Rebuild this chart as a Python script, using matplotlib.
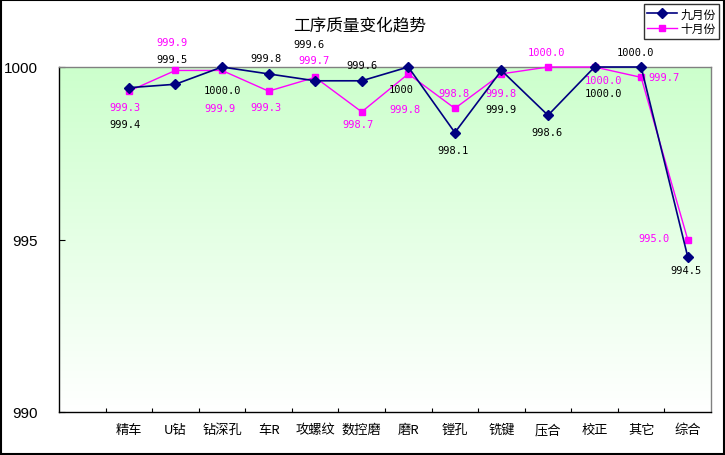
import numpy as np
import matplotlib
matplotlib.use("Agg")
import matplotlib.pyplot as plt
from matplotlib.colors import LinearSegmentedColormap

plt.rcParams["font.family"] = ["Noto Sans CJK SC", "DejaVu Sans"]

categories = ["精车", "U钻", "钻深孔", "车R", "攻螺纹", "数控磨", "磨R",
              "镗孔", "铣键", "压合", "校正", "其它", "综合"]
sep = [999.4, 999.5, 1000.0, 999.8, 999.6, 999.6, 1000.0,
       998.1, 999.9, 998.6, 1000.0, 1000.0, 994.5]
oct_ = [999.3, 999.9, 999.9, 999.3, 999.7, 998.7, 999.8,
        998.8, 999.8, 1000.0, 1000.0, 999.7, 995.0]
sep_text = ["999.4", "999.5", "1000.0", "999.8", "999.6", "999.6", "1000",
            "998.1", "999.9", "998.6", "1000.0", "1000.0", "994.5"]
oct_text = ["999.3", "999.9", "999.9", "999.3", "999.7", "998.7", "999.8",
            "998.8", "999.8", "1000.0", "1000.0", "999.7", "995.0"]

# label offsets in pixels (dx, dy), dy positive = up
sep_off = [(-4, -36), (-3, 25), (0, -23), (-3, 16), (-6, 37), (0, 16), (-7, -22),
           (-2, -17), (0, -39), (-1, -17), (9, -26), (-6, 15), (-2, -13)]
oct_off = [(-4, -16), (-3, 28), (-2, -38), (-3, -16), (-1, 17), (-4, -12), (-3, -35),
           (-1, 15), (0, -19), (-2, 15), (9, -13), (23, 0), (-34, 1)]

NAVY = "#000080"
MAG = "#FF00FF"

fig = plt.figure(figsize=(7.25, 4.56), dpi=100)
ax = fig.add_axes([59 / 725, 43 / 456, 652 / 725, 345 / 456])

x = np.arange(len(categories)) + 1.5

# gradient plot background
cmap = LinearSegmentedColormap.from_list("bg", ["#CCFFCC", "#FFFFFF"])
grad = np.linspace(0, 1, 256).reshape(-1, 1)
ax.imshow(grad, cmap=cmap, aspect="auto", extent=[0, 14, 990, 1000],
          origin="upper", zorder=0)

ax.plot(x, sep, color=NAVY, lw=1.2, marker="D", ms=5, mfc=NAVY, mec=NAVY,
        label="九月份", clip_on=False, zorder=4)
ax.plot(x, oct_, color=MAG, lw=1.0, marker="s", ms=5, mfc=MAG, mec=MAG,
        label="十月份", clip_on=False, zorder=3)

for xi, yi, t, (dx, dy) in zip(x, sep, sep_text, sep_off):
    ax.annotate(t, (xi, yi), xytext=(dx, dy), textcoords="offset pixels",
                ha="center", va="center", fontsize=7.5, color="black",
                annotation_clip=False, family="DejaVu Sans Mono")
for xi, yi, t, (dx, dy) in zip(x, oct_, oct_text, oct_off):
    ax.annotate(t, (xi, yi), xytext=(dx, dy), textcoords="offset pixels",
                ha="center", va="center", fontsize=7.5, color=MAG,
                annotation_clip=False, family="DejaVu Sans Mono")

ax.set_xlim(0, 14)
ax.set_ylim(990, 1000)
ax.set_yticks([990, 995, 1000])
ax.set_yticklabels(["990", "995", "1000"], fontsize=11, family="Liberation Sans")
ax.tick_params(axis="y", direction="in", length=4, pad=15)
ax.set_xticks(np.arange(1, 14))
ax.set_xticklabels([])
ax.set_xticks(x, minor=True)
ax.set_xticklabels(categories, minor=True, fontsize=9.5)
ax.tick_params(axis="x", which="major", direction="in", length=3, color="black")
ax.tick_params(axis="x", which="minor", length=0, pad=8)

ax.spines["top"].set_color("#808080")
ax.spines["right"].set_color("#808080")
ax.spines["left"].set_color("black")
ax.spines["bottom"].set_color("black")
for s in ax.spines.values():
    s.set_linewidth(1.0)

fig.text(360 / 725, 1 - 26 / 456, "工序质量变化趋势", ha="center", va="center",
         fontsize=12)

leg = fig.legend(loc="upper right", bbox_to_anchor=(719 / 725, 1 - 5 / 456),
                 fontsize=8.5, frameon=True, fancybox=False, edgecolor="black",
                 borderpad=0.3, labelspacing=0.15, handlelength=2.5,
                 handletextpad=0.3, borderaxespad=0)
leg.get_frame().set_linewidth(1.0)

# outer figure border
fig.patches.append(plt.Rectangle((0.001, 0.002), 0.997, 0.996, transform=fig.transFigure,
                                 fill=False, edgecolor="black", lw=1.5))

fig.savefig("out.png", dpi=100)
